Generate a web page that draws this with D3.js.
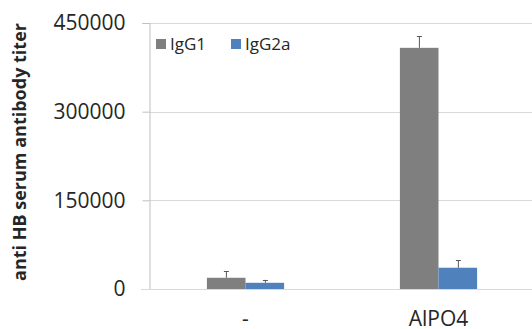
<!DOCTYPE html>
<html>
<head>
<meta charset="utf-8">
<script src="https://cdn.jsdelivr.net/npm/d3@7"></script>
<style>
  body { margin: 0; background: #fff; }
  text { font-family: "Open Sans", sans-serif; fill: #262626; }
</style>
</head>
<body>
<div id="chart"></div>
<script>
// data
var categories = ["-", "AlPO4"];
var seriesNames = ["IgG1", "IgG2a"];
var igg1 = [19000, 408000];
var igg2a = [10500, 36000];
var igg1Err = [11500, 20000];
var igg2aErr = [5000, 13000];
var yTicks = [0, 150000, 300000, 450000];

var colors = ["#7f7f7f", "#4f81bd"];

var W = 532, H = 329;
var margin = {top: 23, right: 0, bottom: 40, left: 149};

var svg = d3.select("#chart")
    .append("svg")
    .attr("width", W)
    .attr("height", H);

var rows = categories.map(function(c, i) {
    return {cat: c, vals: [
        {key: seriesNames[0], v: igg1[i], e: igg1Err[i], s: 0},
        {key: seriesNames[1], v: igg2a[i], e: igg2aErr[i], s: 1}
    ]};
});

var y = d3.scaleLinear()
    .domain([0, 450000])
    .range([289, margin.top]);

var x0 = d3.scaleBand()
    .domain(categories)
    .range([margin.left, margin.left + 386])
    .paddingInner(0)
    .paddingOuter(0);

var x1 = d3.scaleBand()
    .domain(seriesNames)
    .range([0, x0.bandwidth() * 0.4]);

var inner = (x0.bandwidth() - x0.bandwidth() * 0.4) / 2;

// gridlines
svg.append("g")
    .selectAll("line")
    .data(yTicks.filter(function(d) { return d > 0; }))
    .join("line")
    .attr("x1", margin.left)
    .attr("x2", W)
    .attr("y1", function(d) { return Math.round(y(d)) + 0.5; })
    .attr("y2", function(d) { return Math.round(y(d)) + 0.5; })
    .attr("stroke", "#d9d9d9")
    .attr("stroke-width", 1);

// y axis
var yAxisG = svg.append("g")
    .attr("transform", "translate(" + (margin.left + 0.5) + ",0)")
    .call(d3.axisLeft(y).tickValues(yTicks).tickSize(7).tickPadding(17).tickFormat(d3.format("d")));
yAxisG.select(".domain").attr("stroke", "#bfbfbf");
yAxisG.selectAll(".tick line").attr("stroke", "#bfbfbf");
yAxisG.selectAll(".tick text")
    .attr("font-size", 21)
    .attr("font-family", "Open Sans, sans-serif")
    .attr("fill", "#262626");

// bars
var groups = svg.append("g")
    .selectAll("g")
    .data(rows)
    .join("g")
    .attr("transform", function(d) { return "translate(" + (x0(d.cat) + inner) + ",0)"; });

groups.selectAll("rect")
    .data(function(d) { return d.vals; })
    .join("rect")
    .attr("x", function(d) { return x1(d.key); })
    .attr("width", x1.bandwidth())
    .attr("y", function(d) { return y(d.v); })
    .attr("height", function(d) { return y(0) - y(d.v); })
    .attr("fill", function(d) { return colors[d.s]; });

// error bars (upper only)
var eb = groups.selectAll("g.err")
    .data(function(d) { return d.vals; })
    .join("g")
    .attr("class", "err")
    .attr("stroke", "#595959")
    .attr("stroke-width", 1);
eb.append("line")
    .attr("x1", function(d) { return Math.round(x1(d.key) + x1.bandwidth() / 2) + 0.5; })
    .attr("x2", function(d) { return Math.round(x1(d.key) + x1.bandwidth() / 2) + 0.5; })
    .attr("y1", function(d) { return y(d.v); })
    .attr("y2", function(d) { return y(d.v + d.e); });
eb.append("line")
    .attr("x1", function(d) { return Math.round(x1(d.key) + x1.bandwidth() / 2) - 2; })
    .attr("x2", function(d) { return Math.round(x1(d.key) + x1.bandwidth() / 2) + 3; })
    .attr("y1", function(d) { return Math.round(y(d.v + d.e)) + 0.5; })
    .attr("y2", function(d) { return Math.round(y(d.v + d.e)) + 0.5; });

// x axis baseline
svg.append("line")
    .attr("x1", 141)
    .attr("x2", W)
    .attr("y1", 289.5)
    .attr("y2", 289.5)
    .attr("stroke", "#d9d9d9")
    .attr("stroke-width", 1);

// category labels
svg.append("g")
    .selectAll("text")
    .data(categories)
    .join("text")
    .attr("x", function(d) { return x0(d) + x0.bandwidth() / 2; })
    .attr("y", 326)
    .attr("text-anchor", "middle")
    .attr("font-size", 21)
    .text(function(d) { return d; });

// y axis title
svg.append("text")
    .attr("transform", "translate(26,152) rotate(-90)")
    .attr("text-anchor", "middle")
    .attr("font-size", 18)
    .attr("font-weight", 700)
    .text("anti HB serum antibody titer");

// legend
var legendX = [156, 231];
var legend = svg.append("g")
    .selectAll("g")
    .data(seriesNames)
    .join("g")
    .attr("transform", function(d, i) { return "translate(" + legendX[i] + ",39)"; });
legend.append("rect")
    .attr("width", 10)
    .attr("height", 10)
    .attr("fill", function(d, i) { return colors[i]; });
legend.append("text")
    .attr("x", 14)
    .attr("y", 5)
    .attr("dy", "0.35em")
    .attr("font-size", 17)
    .text(function(d) { return d; });
</script>
</body>
</html>
